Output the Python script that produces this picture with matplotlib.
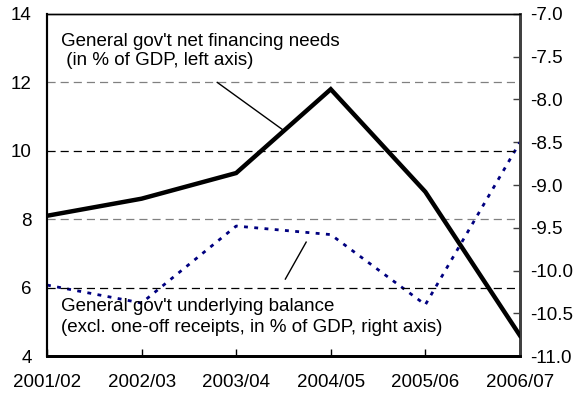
import matplotlib
matplotlib.use("Agg")
import matplotlib.pyplot as plt

plt.rcParams['font.family'] = ['Liberation Sans', 'DejaVu Sans']

# --- data ---
years = ["2001/02", "2002/03", "2003/04", "2004/05", "2005/06", "2006/07"]
net_financing = [8.1, 8.6, 9.35, 11.8, 8.8, 4.6]          # left axis
underlying_balance = [-10.17, -10.38, -9.48, -9.58, -10.4, -8.5]  # right axis
left_ticks = [4, 6, 8, 10, 12, 14]
right_ticks = [-11.0, -10.5, -10.0, -9.5, -9.0, -8.5, -8.0, -7.5, -7.0]

FS = 13.5

fig = plt.figure(figsize=(5.85, 3.93), dpi=100)
ax = fig.add_axes([0.0803, 0.0941, 0.8085, 0.8703])
ax2 = ax.twinx()

x = list(range(len(years)))

# dashed gridlines (alternating grey/black as in original)
for v, c in [(12, '#808080'), (10, 'black'), (8, '#808080'), (6, 'black')]:
    ax.axhline(v, color=c, lw=0.9, ls=(0, (6.5, 4)), zorder=1)

ax.plot(x, net_financing, color='black', lw=3.2, solid_joinstyle='miter', zorder=3)
ax2.plot(x, underlying_balance, color='#000080', lw=2.0, ls=(0, (1.4, 2.3)), zorder=3)

ax.set_xlim(0, 5)
ax.set_ylim(4, 14)
ax2.set_ylim(-11, -7)
ax.set_yticks(left_ticks)
ax.set_yticklabels([str(t) for t in left_ticks], fontsize=FS)
ax2.set_yticks(right_ticks)
ax2.set_yticklabels([f"{t:.1f}" for t in right_ticks], fontsize=FS)
ax.set_xticks(x)
ax.set_xticklabels(years, fontsize=FS)

ax.tick_params(axis='x', direction='in', length=5, width=1, pad=13)
ax.tick_params(axis='y', length=0, pad=11)
ax2.tick_params(axis='y', direction='in', length=5, width=1, color='#404040', pad=7)

for a in (ax, ax2):
    a.spines['top'].set_linewidth(1.0)
    a.spines['left'].set_linewidth(1.5)
    a.spines['bottom'].set_linewidth(2.0)
    a.spines['right'].set_linewidth(2.0)
    a.spines['right'].set_color('#404040')

# annotations
ax.text(0.148, 12.92, "General gov't net financing needs\n (in % of GDP, left axis)",
        fontsize=FS, va='center', ha='left', linespacing=1.2, zorder=4)
ax.plot([1.80, 2.49], [12.0, 10.62], color='black', lw=1.0, zorder=4)

ax.text(0.148, 5.14, "General gov't underlying balance\n(excl. one-off receipts, in % of GDP, right axis)",
        fontsize=FS, va='center', ha='left', linespacing=1.25, zorder=4)
ax.plot([2.52, 2.74], [6.25, 7.33], color='black', lw=1.0, zorder=4)

ax.set_zorder(ax2.get_zorder() + 1)
ax.patch.set_visible(False)

fig.savefig("out.png", dpi=100)
